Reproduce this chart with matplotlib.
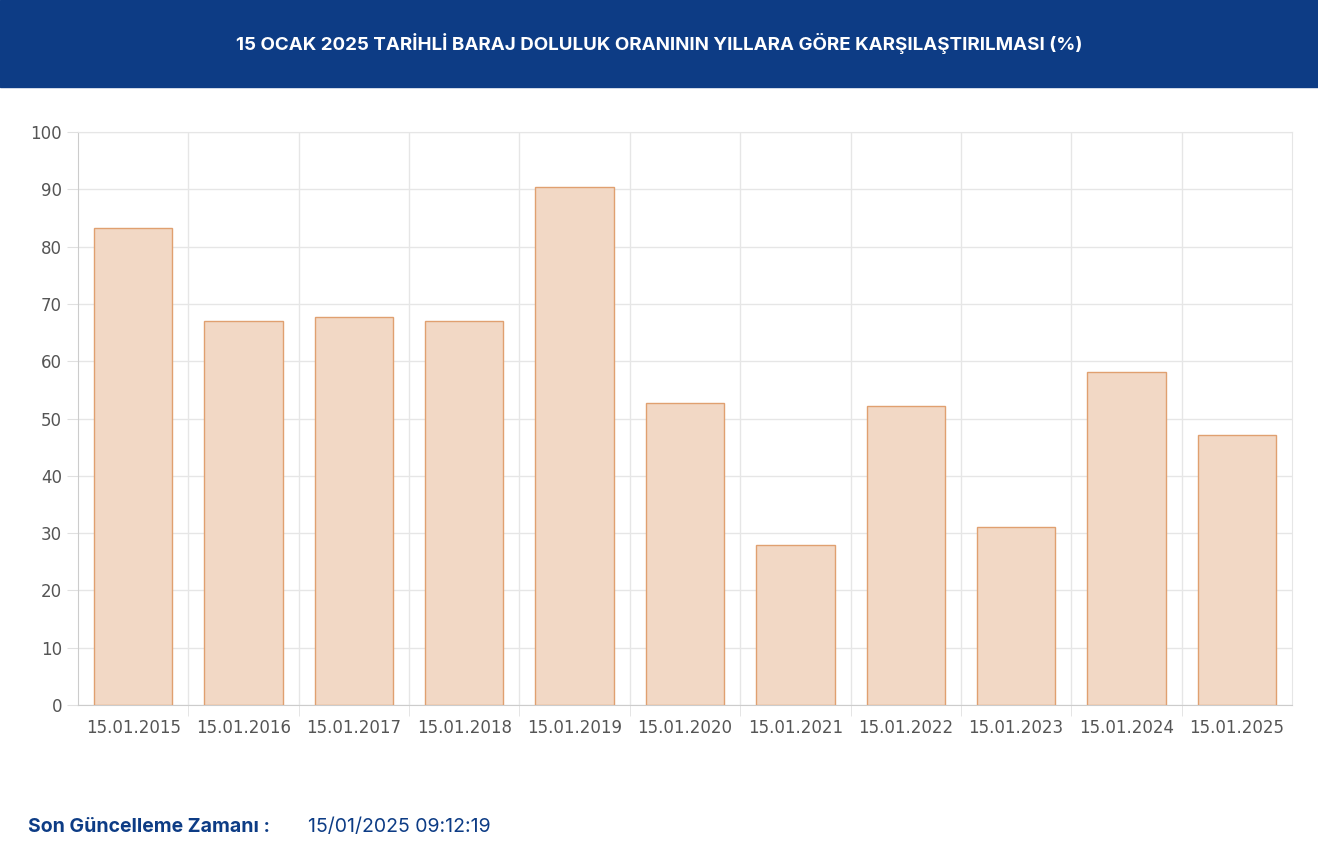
import matplotlib
matplotlib.use("Agg")
import matplotlib.pyplot as plt
from matplotlib.patches import Rectangle

labels = ["15.01.2015","15.01.2016","15.01.2017","15.01.2018","15.01.2019","15.01.2020",
          "15.01.2021","15.01.2022","15.01.2023","15.01.2024","15.01.2025"]
values = [83.2, 67.0, 67.7, 67.0, 90.4, 52.7, 27.9, 52.2, 31.1, 58.1, 47.1]
yticks = list(range(0, 101, 10))

W, H = 1318, 858
fig = plt.figure(figsize=(W/100, H/100), dpi=100)
fig.patch.set_facecolor("white")
fig.patches.append(Rectangle((0, 1-87/H), 1, 87/H, transform=fig.transFigure,
                             color="#0d3c85", zorder=0))
fig.text(0.5, 1-44/H, "15 OCAK 2025 TARİHLİ BARAJ DOLULUK ORANININ YILLARA GÖRE KARŞILAŞTIRILMASI (%)",
         ha="center", va="center", color="white", fontsize=13.5, fontweight="bold", family="Inter")

ax = fig.add_axes([78/W, 1-705/H, (1292-78)/W, (705-132)/H])
x = list(range(len(labels)))
ax.bar(x, values, width=0.71, color="#f2d8c5", edgecolor="#e0a070", linewidth=1, zorder=3)
ax.set_xlim(-0.5, len(labels)-0.5)
ax.set_ylim(0, 100)
ax.set_yticks(yticks)
ax.set_xticks(x)
ax.set_xticklabels(labels)
ax.set_xticks([i+0.5 for i in x[:-1]], minor=True)
ax.grid(False)
ax.grid(axis="y", color="#e6e6e6", linewidth=1, zorder=0)
ax.grid(axis="x", which="minor", color="#e6e6e6", linewidth=1, zorder=0)
for s in ["top", "right"]:
    ax.spines[s].set_color("#e6e6e6")
ax.spines["left"].set_color("#cccccc")
ax.spines["bottom"].set_color("#cccccc")
ax.tick_params(axis="both", labelsize=12, colors="#666666", length=6)
ax.tick_params(axis="x", which="major", length=0, pad=10)
ax.tick_params(axis="x", which="minor", length=8, color="#e0e0e0")
ax.tick_params(axis="y", length=8, color="#e0e0e0")
for t in ax.get_xticklabels()+ax.get_yticklabels():
    t.set_color("#555555")

fig.text(28/W, 1-827/H, "Son Güncelleme Zamanı : ", ha="left", va="center",
         color="#0d3c85", fontsize=14, fontweight="bold", family="Inter")
fig.text(308/W, 1-827/H, "15/01/2025 09:12:19", ha="left", va="center",
         color="#0d3c85", fontsize=14, family="Inter")
fig.savefig("out.png", dpi=100)
